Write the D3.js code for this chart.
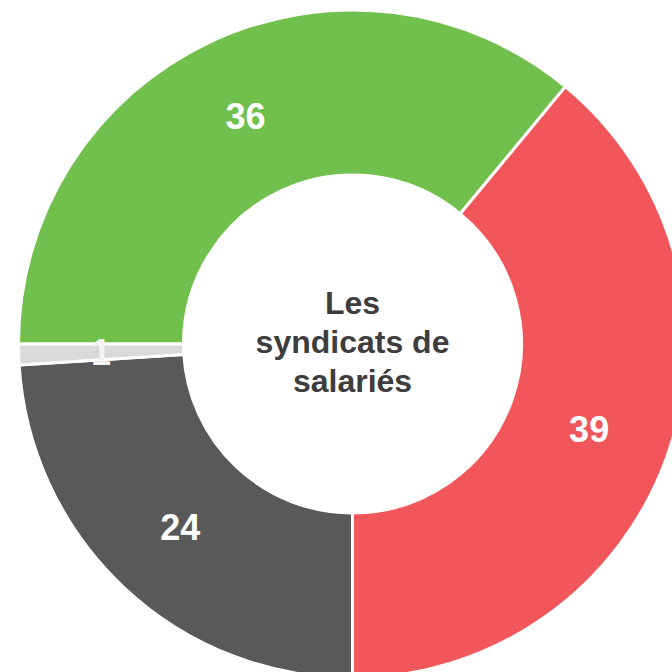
<!DOCTYPE html>
<html>
<head>
<meta charset="utf-8">
<script src="https://cdn.jsdelivr.net/npm/d3@7"></script>
<style>
  html, body { margin: 0; padding: 0; background: #fff; }
  svg { display: block; font-family: "Liberation Sans", Arial, sans-serif; }
</style>
</head>
<body>
<svg id="donut" width="672" height="672"></svg>
<script>
const categories = ['green', 'red', 'dark', 'light']
const values = [36, 39, 24, 1]
const colors = ['#71bf4c', '#f0565a', '#595959', '#d9d9d9']
const labelColors = ['#ffffff', '#ffffff', '#ffffff', '#f4f4f4']
const centerLines = ['Les', 'syndicats de', 'salariés']

const cx = 352.5, cy = 344
const outerR = 334, innerR = 169

const svg = d3.select('#donut')
const g = svg.append('g').attr('transform', `translate(${cx},${cy})`)

const pie = d3.pie()
  .sort(null)
  .value(d => d.value)
  .startAngle(-Math.PI / 2)
  .endAngle(Math.PI * 1.5)

const data = categories.map((c, i) => ({key: c, value: values[i], i}))
const arcs = pie(data)

const arc = d3.arc().innerRadius(innerR).outerRadius(outerR)

g.selectAll('path')
  .data(arcs)
  .join('path')
  .attr('d', arc)
  .attr('fill', d => colors[d.data.i])
  .attr('stroke', '#fff')
  .attr('stroke-width', 3)
  .attr('stroke-linejoin', 'round')

g.selectAll('text.val')
  .data(arcs)
  .join('text')
  .attr('class', 'val')
  .attr('transform', d => `translate(${arc.centroid(d)})`)
  .attr('text-anchor', 'middle')
  .attr('dy', '0.36em')
  .attr('fill', d => labelColors[d.data.i])
  .style('font-size', '36px')
  .style('font-weight', 'bold')
  .text(d => d.data.value)

const center = g.append('text')
  .attr('text-anchor', 'middle')
  .attr('fill', '#3d3d3d')
  .style('font-size', '32px')
  .style('font-weight', 'bold')

center.selectAll('tspan')
  .data(centerLines)
  .join('tspan')
  .attr('x', 0)
  .attr('y', (d, i) => -30 + i * 39)
  .text(d => d)
</script>
</body>
</html>
